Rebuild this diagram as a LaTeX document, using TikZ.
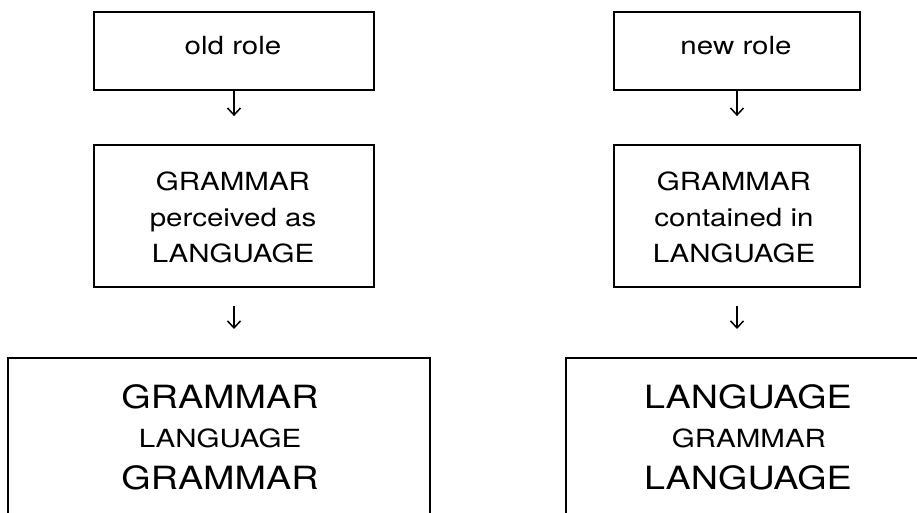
\documentclass[tikz,border=0pt]{standalone}
\usepackage{fontspec}
\usetikzlibrary{arrows.meta}
\newfontfamily\labelfont{TeX Gyre Heros}[FakeStretch=1.18]
\begin{document}
\begin{tikzpicture}[x=1pt,y=-1pt,
  box/.style={draw, line width=1.8pt, inner sep=0pt},
  midtxt/.style={anchor=base, inner sep=0pt, font=\labelfont\fontsize{25}{30}\selectfont},
  bigtxt/.style={anchor=base, inner sep=0pt, font=\labelfont\fontsize{32}{38}\selectfont},
  arr/.style={line width=1.5pt, -{Straight Barb[length=7pt,width=13pt]}}]
\clip (0,0) rectangle (917,513);
\fill[white] (0,0) rectangle (917,513);

% left column
\node[box, minimum width=280pt, minimum height=78pt] (oldL) at (234,51) {};
\node[box, minimum width=280pt, minimum height=142pt] (midL) at (234,216) {};
\node[box, minimum width=422pt, minimum height=200pt, anchor=north] (botL) at (219,357) {};
\node[midtxt] (t1) at (233,55) {old role};
\node[midtxt] (t2) at (233,190) {GRAMMAR};
\node[midtxt] (t3) at (233,226) {perceived as};
\node[midtxt] (t4) at (233,262) {LANGUAGE};
\node[bigtxt] (t5) at (220,408) {GRAMMAR};
\node[midtxt] (t6) at (220,447) {LANGUAGE};
\node[bigtxt] (t7) at (220,489) {GRAMMAR};
\draw[arr, shorten >=28pt] (oldL.south) -- (midL.north);
\draw[arr, shorten <=18pt, shorten >=28pt] (midL.south) -- (midL.south |- botL.north);

% right column
\node[box, minimum width=246pt, minimum height=78pt] (oldR) at (737,51) {};
\node[box, minimum width=246pt, minimum height=142pt] (midR) at (737,216) {};
\node[box, minimum width=364pt, minimum height=200pt, anchor=north] (botR) at (748,357) {};
\node[midtxt] (u1) at (736,55) {new role};
\node[midtxt] (u2) at (734,190) {GRAMMAR};
\node[midtxt] (u3) at (734,226) {contained in};
\node[midtxt] (u4) at (734,262) {LANGUAGE};
\node[bigtxt] (u5) at (748,408) {LANGUAGE};
\node[midtxt] (u6) at (749,447) {GRAMMAR};
\node[bigtxt] (u7) at (748,489) {LANGUAGE};
\draw[arr, shorten >=28pt] (oldR.south) -- (midR.north);
\draw[arr, shorten <=18pt, shorten >=28pt] (midR.south) -- (midR.south |- botR.north);
\end{tikzpicture}
\end{document}
